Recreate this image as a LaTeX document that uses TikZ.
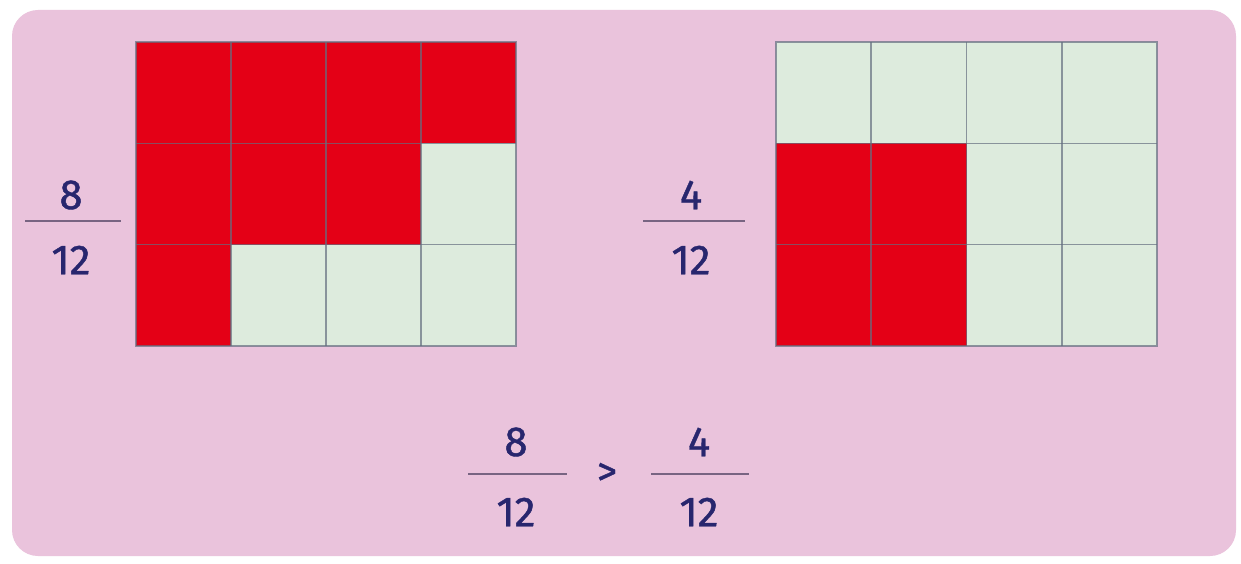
\documentclass[tikz,border=0pt]{standalone}
\usepackage{fontspec}
\setmainfont{Fira Sans}
\newfontfamily\digfont[FakeBold=1.0]{Fira Sans}
\definecolor{bgpink}{RGB}{234,195,220}
\definecolor{cellred}{RGB}{228,0,22}
\definecolor{cellgreen}{RGB}{221,235,221}
\definecolor{gridline}{RGB}{100,110,128}
\definecolor{navy}{RGB}{40,38,110}
\definecolor{fracline}{RGB}{120,100,130}
\tikzset{
  redcell/.style={fill=cellred},
  greencell/.style={fill=cellgreen},
  gridl/.style={draw=gridline,line width=1.6pt,draw opacity=0.7},
  digit/.style={text=navy,font=\digfont\fontsize{42}{42}\selectfont,inner sep=0pt},
  frl/.style={draw=fracline,line width=1.3pt},
}
\begin{document}
\begin{tikzpicture}[x=1pt,y=-1pt]
\useasboundingbox (0,0) rectangle (1241,564);
\fill[white] (0,0) rectangle (1241,564);
\fill[bgpink,rounded corners=26pt] (12,10) rectangle (1236,556);
% left grid
\foreach \c/\r/\s in {0/0/redcell,1/0/redcell,2/0/redcell,3/0/redcell,
  0/1/redcell,1/1/redcell,2/1/redcell,3/1/greencell,
  0/2/redcell,1/2/greencell,2/2/greencell,3/2/greencell}{
  \fill[\s] (136+95*\c,42+101.33*\r) rectangle (136+95*\c+95,42+101.33*\r+101.33);
}
\foreach \c in {1,2,3}{ \draw[gridl] (136+95*\c,42) -- (136+95*\c,346); }
\foreach \r in {1,2}{ \draw[gridl] (136,42+101.33*\r) -- (516,42+101.33*\r); }
\draw[gridl] (136,42) rectangle (516,346);
% right grid
\foreach \c/\r/\s in {0/0/greencell,1/0/greencell,2/0/greencell,3/0/greencell,
  0/1/redcell,1/1/redcell,2/1/greencell,3/1/greencell,
  0/2/redcell,1/2/redcell,2/2/greencell,3/2/greencell}{
  \fill[\s] (776+95.25*\c,42+101.33*\r) rectangle (776+95.25*\c+95.25,42+101.33*\r+101.33);
}
\foreach \c in {1,2,3}{ \draw[gridl] (776+95.25*\c,42) -- (776+95.25*\c,346); }
\foreach \r in {1,2}{ \draw[gridl] (776,42+101.33*\r) -- (1157,42+101.33*\r); }
\draw[gridl] (776,42) rectangle (1157,346);
% left fraction
\node[digit] (ln) at (71,195) {8};
\node[digit] (ld) at (71,260) {12};
\coordinate (la) at (25,221); \coordinate (lb) at (121,221);
\draw[frl] (la) -- (lb);
% right fraction
\node[digit] (rn) at (691,195) {4};
\node[digit] (rd) at (691,260) {12};
\coordinate (ra) at (643,221); \coordinate (rb) at (745,221);
\draw[frl] (ra) -- (rb);
% bottom comparison
\node[digit] (bn1) at (516,442) {8};
\node[digit] (bd1) at (516,512) {12};
\coordinate (b1a) at (468,474); \coordinate (b1b) at (567,474);
\draw[frl] (b1a) -- (b1b);
\node[text=navy,font=\digfont\fontsize{40}{40}\selectfont,inner sep=0pt] (gt) at (607,474) {>};
\node[digit] (bn2) at (699,442) {4};
\node[digit] (bd2) at (699,512) {12};
\coordinate (b2a) at (651,474); \coordinate (b2b) at (749,474);
\draw[frl] (b2a) -- (b2b);
\end{tikzpicture}
\end{document}
